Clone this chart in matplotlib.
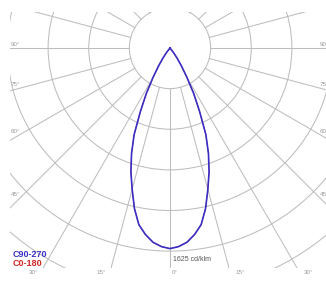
import numpy as np
import matplotlib.pyplot as plt
from matplotlib.patches import Circle

plt.rcParams['font.family'] = ['Liberation Sans', 'DejaVu Sans']

# luminous intensity, cd/klm, vs angle from nadir (deg)
gamma = [0, 2.5, 5, 7.5, 10, 12.5, 15, 17.5, 20, 22.5, 25, 27.5, 30, 32.5, 35, 37.5, 40, 45, 60, 75, 90]
c90_270 = [1605, 1590, 1560, 1505, 1435, 1315, 1170, 1040, 900, 750, 560, 410, 270, 170, 100, 45, 0, 0, 0, 0, 0]
c0_180 = [1605, 1590, 1560, 1505, 1435, 1315, 1170, 1040, 900, 750, 560, 410, 270, 170, 100, 45, 0, 0, 0, 0, 0]

ring_step = 325
ring_count = 7
max_label = '1625 cd/klm'
left_labels = [90, 75, 60, 45]
bottom_labels = [30, 15, 0, 15, 30]
bottom_angles = [-30, -15, 0, 15, 30]

grid_col = '#bdbdbd'
lbl_col = '#9a9a9a'

fig = plt.figure(figsize=(3.26, 2.87), dpi=100)
ax = fig.add_axes([10 / 326, 19 / 287, 320 / 326, 256 / 287])
ax.set_xlim(-1280, 1280)
ax.set_ylim(-1760, 288)
ax.set_aspect('equal')
ax.axis('off')
px = 8.0  # cd/klm per pixel

# rings
for k in range(1, ring_count + 1):
    ax.add_patch(Circle((0, 0), ring_step * k, fill=False, ec=grid_col, lw=0.75))

# radial lines every 15 deg, starting from first ring
for a in range(0, 360, 15):
    r = np.radians(a)
    ax.plot([ring_step * np.sin(r), 4000 * np.sin(r)],
            [-ring_step * np.cos(r), -4000 * np.cos(r)],
            color=grid_col, lw=0.75)


def curve(vals):
    g = np.radians(np.array(gamma))
    v = np.array(vals)
    gg = np.concatenate([-g[::-1], g[1:]])
    vv = np.concatenate([v[::-1], v[1:]])
    return vv * np.sin(gg), -vv * np.cos(gg)


x, y = curve(c0_180)
ax.plot(x, y, color='#d42a2a', lw=0.6)
x, y = curve(c90_270)
ax.plot(x, y, color='#3a2fc4', lw=1.2)

# angle labels along left and right edges
xe = 1280
for a in left_labels:
    r = np.radians(a)
    yl = -(xe - 10 * px) / np.tan(r) if a != 90 else 0
    ax.text(-xe + 1 * px, yl + 1 * px, '%d°' % a, fontsize=4.5, color=lbl_col,
            ha='left', va='bottom')
    ax.text(xe - 1 * px, yl + 1 * px, '%d°' % a, fontsize=4.5, color=lbl_col,
            ha='right', va='bottom')

# labels under the frame
yb = -1760
for a, t in zip(bottom_angles, bottom_labels):
    xi = -yb * np.tan(np.radians(a))
    if a < 0:
        ax.text(xi - 5 * px, yb - 4 * px, '%d°' % t, fontsize=4.5, color=lbl_col,
                ha='right', va='center')
    else:
        ax.text(xi + 2 * px + (5 * px if a > 0 else 0), yb - 4 * px, '%d°' % t,
                fontsize=4.5, color=lbl_col, ha='left', va='center')
for t in ax.texts:
    t.set_clip_on(False)

ax.text(3 * px, -5 * ring_step - 8 * px, max_label, fontsize=5, color='#555555',
        ha='left', va='center')

ax.text(-1280 + 3 * px, -1652, 'C90-270', fontsize=6.5, fontweight='bold',
        color='#3a2fc4', ha='left', va='center')
ax.text(-1280 + 3 * px, -1724, 'C0-180', fontsize=6.5, fontweight='bold',
        color='#d42a2a', ha='left', va='center')

fig.savefig('out.png', dpi=100)
